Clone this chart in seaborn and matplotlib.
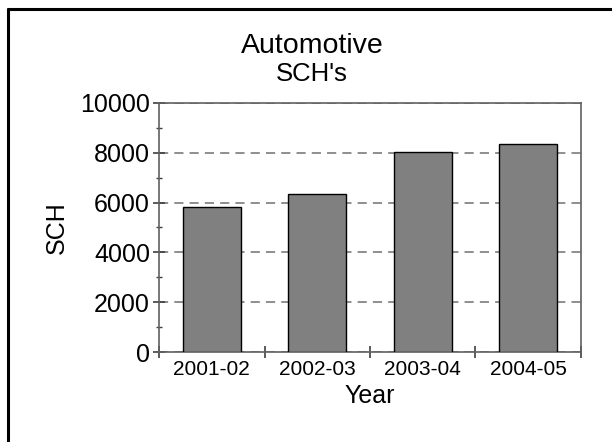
import matplotlib
matplotlib.use("Agg")
import matplotlib.pyplot as plt
from matplotlib.lines import Line2D
from matplotlib.ticker import MultipleLocator, FixedLocator
import numpy as np
import pandas as pd
import seaborn as sns

# data
years = ["2001-02", "2002-03", "2003-04", "2004-05"]
sch = [5810, 6330, 8030, 8340]

sns.set_style("ticks", rc={"text.color": "black", "axes.labelcolor": "black",
                           "xtick.color": "black", "ytick.color": "black"})
plt.rcParams['font.family'] = ['Liberation Sans', 'DejaVu Sans']

df = pd.DataFrame({"Year": years, "SCH": sch})

fig = plt.figure(figsize=(6.12, 4.42), dpi=100)
ax = fig.add_axes([0.26, 0.2036, 0.689, 0.5634])

sns.barplot(data=df, x="Year", y="SCH", color="#808080", saturation=1,
            edgecolor="black", linewidth=1, width=0.55, ax=ax, zorder=3)

ax.set_xlim(-0.5, len(years) - 0.5)
ax.set_ylim(0, 10000)
ax.yaxis.set_major_locator(MultipleLocator(2000))
ax.yaxis.set_minor_locator(MultipleLocator(1000))
ax.xaxis.set_minor_locator(FixedLocator(np.arange(-0.5, len(years), 1.0)))

# dashed gridlines
ax.yaxis.grid(True, which="major", linestyle=(0, (6, 4)), color="#707070", linewidth=1.1, zorder=0)
ax.set_axisbelow(True)

for s in ax.spines.values():
    s.set_visible(True)
    s.set_color("#606060")
    s.set_linewidth(1.2)

ax.tick_params(axis="y", which="major", direction="inout", length=9, width=1.2, color="#404040",
               labelsize=18, pad=2)
ax.tick_params(axis="y", which="minor", direction="inout", length=5, width=1.0, color="#404040")
ax.tick_params(axis="x", which="major", length=0, labelsize=15, pad=6)
ax.tick_params(axis="x", which="minor", direction="inout", length=9, width=1.2, color="#404040")

ax.set_xlabel("Year", fontsize=18, labelpad=3)
ax.set_ylabel("SCH", fontsize=18, labelpad=8)

fig.text(0.51, 1 - 53.3 / 442, "Automotive", ha="center", va="baseline", fontsize=20.5)
fig.text(0.51, 1 - 81 / 442, "SCH's", ha="center", va="baseline", fontsize=18.5)

# outer frame, only top and left edges are visible in the reference
fig.add_artist(Line2D([7.5 / 612, 7.5 / 612], [0, 1 - 8.5 / 442], transform=fig.transFigure,
                      color="black", linewidth=2.2))
fig.add_artist(Line2D([7.5 / 612, 1], [1 - 8.5 / 442, 1 - 8.5 / 442], transform=fig.transFigure,
                      color="black", linewidth=2.2))

fig.savefig("out.png", dpi=100)
